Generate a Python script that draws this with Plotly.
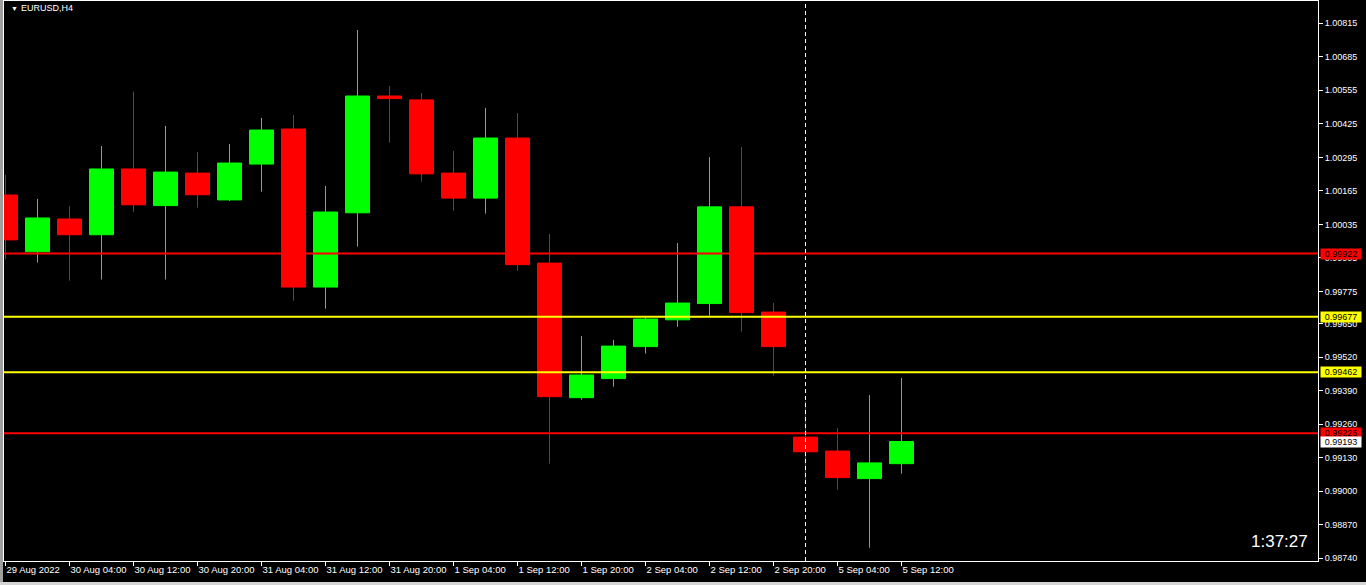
import plotly.graph_objects as go

BAR_TIMES = [
    "2022-08-29 20:00",
    "2022-08-30 00:00", "2022-08-30 04:00", "2022-08-30 08:00",
    "2022-08-30 12:00", "2022-08-30 16:00", "2022-08-30 20:00",
    "2022-08-31 00:00", "2022-08-31 04:00", "2022-08-31 08:00",
    "2022-08-31 12:00", "2022-08-31 16:00", "2022-08-31 20:00",
    "2022-09-01 00:00", "2022-09-01 04:00", "2022-09-01 08:00",
    "2022-09-01 12:00", "2022-09-01 16:00", "2022-09-01 20:00",
    "2022-09-02 00:00", "2022-09-02 04:00", "2022-09-02 08:00",
    "2022-09-02 12:00", "2022-09-02 16:00", "2022-09-02 20:00",
    "2022-09-05 00:00", "2022-09-05 04:00", "2022-09-05 08:00",
    "2022-09-05 12:00",
]
OPEN = [1.00149, 0.99929, 1.00056, 0.99995, 1.00250, 1.00108, 1.00234, 1.00130,
        1.00269, 1.00405, 0.99792, 1.00080, 1.00533, 1.00518, 1.00234, 1.00137,
        1.00370, 0.99885, 0.99363, 0.99437, 0.99561, 0.99665, 0.99728, 1.00103,
        0.99695, 0.99210, 0.99156, 0.99049, 0.99107]
HIGH = [1.00227, 1.00134, 1.00106, 1.00339, 1.00550, 1.00417, 1.00316, 1.00347,
        1.00448, 1.00459, 1.00184, 1.00789, 1.00572, 1.00545, 1.00320, 1.00487,
        1.00467, 0.99998, 0.99602, 0.99587, 0.99673, 0.99963, 1.00296, 1.00335,
        0.99730, 0.99350, 0.99245, 0.99373, 0.99439]
LOW = [0.99900, 0.99887, 0.99817, 0.99821, 1.00084, 0.99821, 1.00100, 1.00126,
       1.00162, 0.99739, 0.99708, 0.99949, 1.00352, 1.00201, 1.00088, 1.00077,
       0.99855, 0.99107, 0.99355, 0.99406, 0.99534, 0.99638, 0.99681, 0.99619,
       0.99448, 0.99028, 0.99006, 0.98781, 0.99068]
CLOSE = [0.99975, 1.00060, 0.99995, 1.00250, 1.00111, 1.00238, 1.00150, 1.00273,
         1.00401, 0.99792, 1.00083, 1.00533, 1.00523, 1.00231, 1.00137, 1.00370,
         0.99879, 0.99367, 0.99451, 0.99563, 0.99668, 0.99730, 1.00103, 0.99693,
         0.99561, 0.99153, 0.99053, 0.99110, 0.99193]

RED_LEVELS = [0.99922, 0.99225]
YELLOW_LEVELS = [0.99677, 0.99462]
CROSSHAIR_TIME = "2022-09-05 00:00"

Y_TICKS = [1.00815, 1.00685, 1.00555, 1.00425, 1.00295, 1.00165, 1.00035,
           0.99905, 0.99775, 0.99650, 0.99520, 0.99390, 0.99260, 0.99130,
           0.99000, 0.98870, 0.98740]
X_TICK_LABELS = ["29 Aug 2022", "30 Aug 04:00", "30 Aug 12:00", "30 Aug 20:00",
                 "31 Aug 04:00", "31 Aug 12:00", "31 Aug 20:00", "1 Sep 04:00",
                 "1 Sep 12:00", "1 Sep 20:00", "2 Sep 04:00", "2 Sep 12:00",
                 "2 Sep 20:00", "5 Sep 04:00", "5 Sep 12:00"]
SYMBOL = "EURUSD,H4"
TIMER = "1:37:27"

GREEN = '#00FF00'
RED = '#FF0000'
YELLOW = '#FFFF00'
FONT = 'Liberation Sans'

idx = list(range(len(BAR_TIMES)))

fig = go.Figure()
fig.add_trace(go.Candlestick(
    x=idx, open=OPEN, high=HIGH, low=LOW, close=CLOSE,
    increasing=dict(line=dict(color=GREEN, width=1), fillcolor=GREEN),
    decreasing=dict(line=dict(color=RED, width=1), fillcolor=RED),
    whiskerwidth=0,
    hoverinfo='skip',
    showlegend=False,
))

for lvl in RED_LEVELS:
    fig.add_hline(y=lvl, line_color=RED, line_width=2)
for lvl in YELLOW_LEVELS:
    fig.add_hline(y=lvl, line_color=YELLOW, line_width=2)

fig.add_vline(x=BAR_TIMES.index(CROSSHAIR_TIME), line_color='white',
              line_width=1, line_dash='4px,3px')

# price labels on the right scale
labels = [(v, RED) for v in RED_LEVELS] + [(v, YELLOW) for v in YELLOW_LEVELS]
labels.append((CLOSE[-1], 'white'))
for v, bg in labels:
    fig.add_annotation(
        x=1.0013, xref='paper', xanchor='left', y=v, yref='y',
        text=f"{v:.5f}", showarrow=False, bgcolor=bg, borderpad=0,
        width=40, height=10, font=dict(family=FONT, size=9, color='black'),
    )

fig.add_annotation(x=0.0035, xref='paper', y=0.986, yref='paper', text='▼',
                   showarrow=False, xanchor='left', yanchor='middle',
                   font=dict(family=FONT, size=7, color='white'))
fig.add_annotation(x=0.0115, xref='paper', y=0.9875, yref='paper', text=SYMBOL,
                   showarrow=False, xanchor='left', yanchor='middle',
                   font=dict(family=FONT, size=9, color='white'))
fig.add_annotation(x=0.9939, xref='paper', y=0.034, yref='paper', text=TIMER,
                   showarrow=False, xanchor='right', yanchor='middle',
                   font=dict(family=FONT, size=17, color='white'))

# window frame (left edge and bottom strip)
fig.add_shape(type='rect', xref='paper', yref='paper', x0=-4 / 1314, x1=-1 / 1314,
              y0=-24 / 560, y1=561 / 560, fillcolor='#a0a0a0', line_width=0)
fig.add_shape(type='rect', xref='paper', yref='paper', x0=-4 / 1314, x1=1362 / 1314,
              y0=-24 / 560, y1=-21 / 560, fillcolor='#d4d4d4', line_width=0)

fig.update_layout(
    width=1366, height=585,
    margin=dict(l=4, r=48, t=1, b=24),
    paper_bgcolor='black',
    plot_bgcolor='black',
    boxgap=0.25, boxgroupgap=0,
    xaxis=dict(
        range=[-0.047, 41.016],
        rangeslider=dict(visible=False),
        showgrid=False, zeroline=False,
        showline=True, linecolor='white', linewidth=1, mirror=True,
        tickvals=idx[::2], ticktext=X_TICK_LABELS,
        ticks='outside', ticklen=4, tickcolor='white',
        ticklabelposition='outside right', tickangle=0,
        tickfont=dict(family=FONT, size=9.5, color='white'),
        automargin=False,
    ),
    yaxis=dict(
        side='right',
        range=[0.987295, 1.009015],
        showgrid=False, zeroline=False,
        showline=True, linecolor='white', linewidth=1, mirror=True,
        tickvals=Y_TICKS, ticktext=[f"{v:.5f}" for v in Y_TICKS],
        ticks='outside', ticklen=4, tickcolor='white',
        tickfont=dict(family=FONT, size=9, color='white'),
        automargin=False,
    ),
)

fig.write_html("out.html", config={'displayModeBar': False},
               post_script="document.body.style.margin='0';")
